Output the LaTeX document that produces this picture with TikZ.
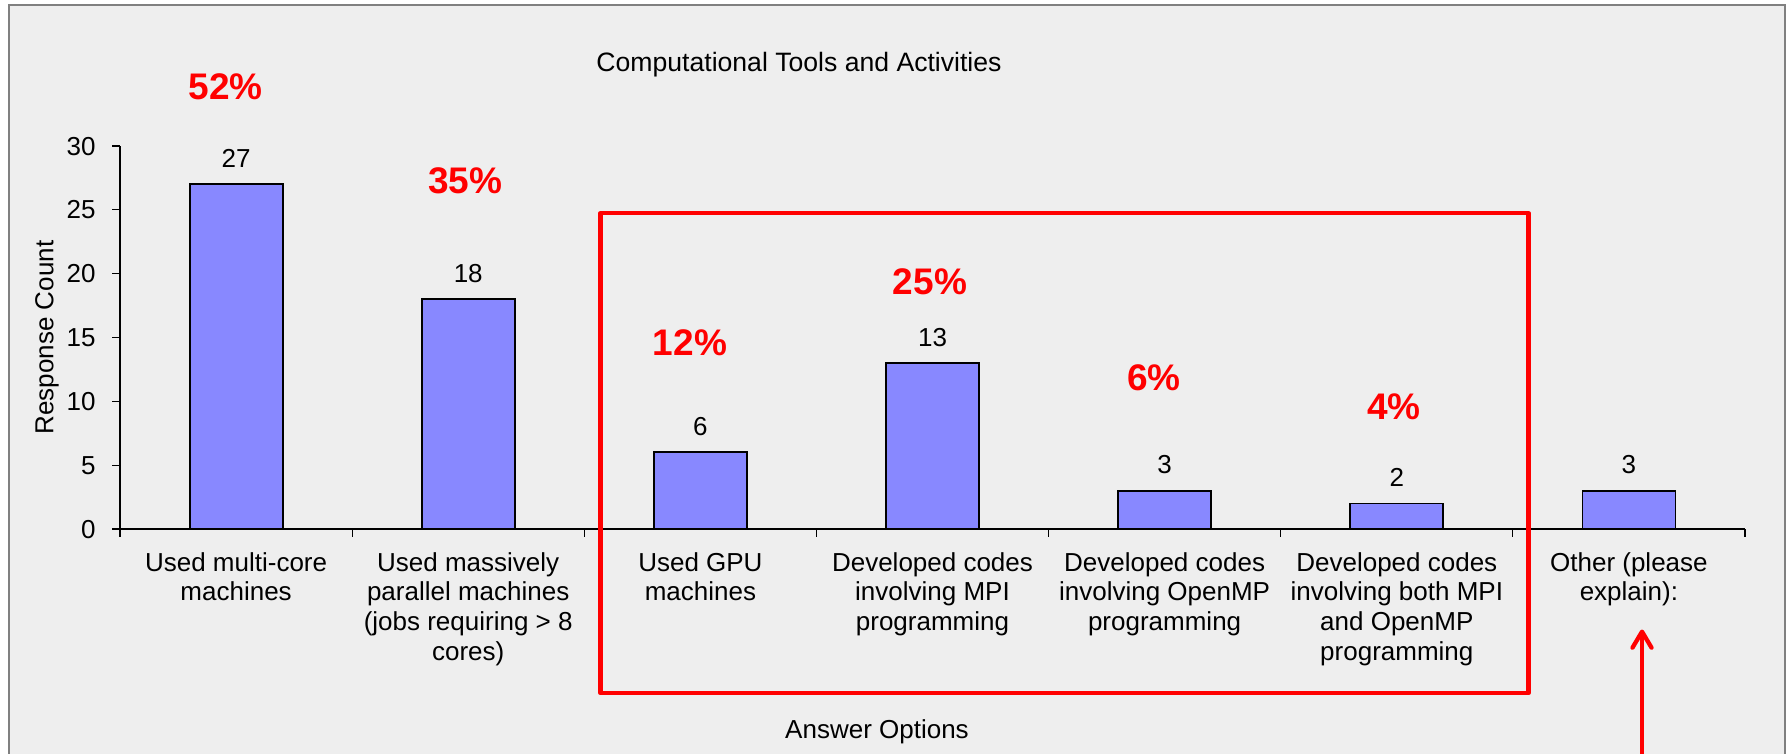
\documentclass[tikz,border=0pt]{standalone}
\usepackage{fontspec}
\setmainfont{Liberation Sans}
\usetikzlibrary{arrows.meta}
\definecolor{bgc}{RGB}{238,238,238}
\definecolor{barc}{RGB}{136,136,255}
\definecolor{framec}{RGB}{128,128,128}
\definecolor{hired}{RGB}{255,0,0}
\begin{document}
\begin{tikzpicture}[x=0.5pt,y=-0.5pt,
  txt/.style={inner sep=0pt,font={\fontsize{13}{14.9}\selectfont}},
  cat/.style={txt,anchor=base,align=center},
  val/.style={txt,anchor=base},
  tickl/.style={txt,anchor=east,text depth=0pt},
  pct/.style={inner sep=0pt,anchor=base,text=hired,font={\bfseries\fontsize{18.5}{20}\selectfont}},
  barbox/.style={fill=barc,draw=black,line width=0.9pt},
  axisline/.style={draw=black,line width=0.6pt},
  hibox/.style={draw=hired,line width=2.2pt,line join=round},
  hiarrow/.style={draw=hired,line width=2.15pt,-{Straight Barb[length=8pt,width=9.5pt,line cap=round,line join=round]}}
]
\useasboundingbox (0,0) rectangle (1788,754);
\fill[white] (0,0) rectangle (1788,754);
\begin{scope}
  \clip (0,0) rectangle (1788,754);
  \filldraw[fill=bgc,draw=framec,line width=1.2pt] (9,5) rectangle (1785,780);
\end{scope}

% title
\node[txt,anchor=base,font={\fontsize{13.3}{15}\selectfont}] (title) at (799,71.7) {Computational Tools and Activities};

% y axis
\coordinate (yb) at (120,529);
\coordinate (yt) at (120,146);
\draw[axisline] (yb) -- (yt);
\foreach \v in {0,5,...,30}{
  \coordinate (yt\v) at (120,{529-\v*12.767});
  \coordinate (ytl\v) at (112,{529-\v*12.767});
  \draw[axisline] (ytl\v) -- (yt\v);
  \node[tickl] (yl\v) at (96,{529-\v*12.767}) {\v};
}
\node[txt,rotate=90,anchor=base] (ylab) at (53.5,337.5) {Response Count};

% x axis
\coordinate (xr) at (1745,529);
\draw[axisline] (yb) -- (xr);
\foreach \k in {0,...,7}{
  \coordinate (xt\k) at ({120+232.14*\k},529);
  \coordinate (xb\k) at ({120+232.14*\k},537);
  \draw[axisline] (xt\k) -- (xb\k);
}

% bars
\foreach \i/\v in {1/27,2/18,3/6,4/13,5/3,6/2,7/3}{
  \pgfmathsetmacro{\cx}{236.1+232.14*(\i-1)}
  \pgfmathsetmacro{\ty}{529-\v*12.767}
  \draw[barbox] ({\cx-46.5},529) rectangle ({\cx+46.5},\ty);
  \node[val] (v\i) at (\cx,{\ty-17}) {\v};
}

% category labels (anchor = baseline of last line; first line baseline at 571, step 29.8)
\node[cat] (c1) at (236.1,600.8) {Used multi-core\\machines};
\node[cat] (c2) at (468.2,660.4) {Used massively\\parallel machines\\(jobs requiring > 8\\cores)};
\node[cat] (c3) at (700.4,600.8) {Used GPU\\machines};
\node[cat] (c4) at (932.5,630.6) {Developed codes\\involving MPI\\programming};
\node[cat] (c5) at (1164.6,630.6) {Developed codes\\involving OpenMP\\programming};
\node[cat] (c6) at (1396.8,660.4) {Developed codes\\involving both MPI\\and OpenMP\\programming};
\node[cat] (c7) at (1628.9,600.8) {Other (please\\explain):};

\node[txt,anchor=base] (xlab) at (877,738.3) {Answer Options};

% percentages
\node[pct] (p1) at (225.6,99.3) {52\%};
\node[pct] (p2) at (465.3,194) {35\%};
\node[pct] (p3) at (690,355.7) {12\%};
\node[pct] (p4) at (930,294) {25\%};
\node[pct] (p5) at (1154,390) {6\%};
\node[pct] (p6) at (1394,419.3) {4\%};

% highlight box
\draw[hibox] (600.5,213.3) rectangle (1528.5,693);

% arrow
\coordinate (atail) at (1642,770);
\coordinate (ahead) at (1642,629.5);
\draw[hiarrow] (atail) -- (ahead);
\end{tikzpicture}
\end{document}
